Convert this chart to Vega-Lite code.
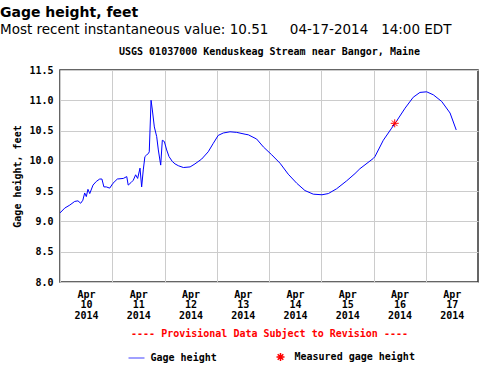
{
  "$schema": "https://vega.github.io/schema/vega-lite/v6.json",
  "width": 418,
  "height": 212,
  "autosize": "none",
  "padding": {"left": 60, "top": 70, "right": 22, "bottom": 102},
  "background": "white",
  "title": {
    "text": "Gage height, feet",
    "subtitle": "Most recent instantaneous value: 10.51\u00a0\u00a0\u00a0\u00a0\u00a004-17-2014\u00a0\u00a0\u00a014:00 EDT",
    "anchor": "start",
    "frame": "group",
    "dx": -60,
    "font": "DejaVu Sans",
    "fontSize": 14,
    "fontWeight": "bold",
    "color": "black",
    "subtitleFont": "DejaVu Sans",
    "subtitleFontSize": 13.5,
    "subtitleColor": "black",
    "subtitlePadding": 3,
    "offset": 10
  },
  "config": {
    "view": {"stroke": "#333333", "strokeWidth": 1.5},
    "axis": {
      "labelFont": "DejaVu Sans Mono",
      "labelFontWeight": "bold",
      "labelFontSize": 10,
      "labelColor": "black",
      "titleFont": "DejaVu Sans Mono",
      "titleFontWeight": "bold",
      "titleFontSize": 10,
      "titleColor": "black",
      "gridColor": "#cccccc",
      "gridWidth": 1,
      "domain": false,
      "ticks": false
    }
  },
  "layer": [
    {
      "data": {
        "values": [
          {"time": "2014-04-10T00:00", "gage": 9.14},
          {"time": "2014-04-10T02:10", "gage": 9.22},
          {"time": "2014-04-10T04:30", "gage": 9.27},
          {"time": "2014-04-10T06:45", "gage": 9.33},
          {"time": "2014-04-10T08:15", "gage": 9.34},
          {"time": "2014-04-10T09:30", "gage": 9.30},
          {"time": "2014-04-10T10:30", "gage": 9.35},
          {"time": "2014-04-10T11:20", "gage": 9.47},
          {"time": "2014-04-10T12:05", "gage": 9.41},
          {"time": "2014-04-10T12:50", "gage": 9.53},
          {"time": "2014-04-10T13:40", "gage": 9.46},
          {"time": "2014-04-10T15:10", "gage": 9.60},
          {"time": "2014-04-10T16:40", "gage": 9.66},
          {"time": "2014-04-10T18:15", "gage": 9.70},
          {"time": "2014-04-10T19:15", "gage": 9.70},
          {"time": "2014-04-10T20:10", "gage": 9.57},
          {"time": "2014-04-10T21:15", "gage": 9.57},
          {"time": "2014-04-10T22:50", "gage": 9.55},
          {"time": "2014-04-11T00:20", "gage": 9.63},
          {"time": "2014-04-11T02:20", "gage": 9.70},
          {"time": "2014-04-11T05:05", "gage": 9.71},
          {"time": "2014-04-11T06:40", "gage": 9.74},
          {"time": "2014-04-11T07:20", "gage": 9.60},
          {"time": "2014-04-11T08:35", "gage": 9.64},
          {"time": "2014-04-11T09:40", "gage": 9.68},
          {"time": "2014-04-11T10:45", "gage": 9.77},
          {"time": "2014-04-11T11:40", "gage": 9.71},
          {"time": "2014-04-11T12:45", "gage": 9.88},
          {"time": "2014-04-11T13:30", "gage": 9.57},
          {"time": "2014-04-11T14:15", "gage": 9.85},
          {"time": "2014-04-11T15:00", "gage": 10.07},
          {"time": "2014-04-11T15:50", "gage": 10.10},
          {"time": "2014-04-11T16:35", "gage": 10.12},
          {"time": "2014-04-11T17:00", "gage": 10.15},
          {"time": "2014-04-11T17:50", "gage": 11.00},
          {"time": "2014-04-11T18:25", "gage": 10.84},
          {"time": "2014-04-11T19:20", "gage": 10.56},
          {"time": "2014-04-11T20:25", "gage": 10.40},
          {"time": "2014-04-11T21:10", "gage": 10.18},
          {"time": "2014-04-11T22:15", "gage": 9.93},
          {"time": "2014-04-11T23:00", "gage": 10.34},
          {"time": "2014-04-11T23:55", "gage": 10.32},
          {"time": "2014-04-12T01:00", "gage": 10.18},
          {"time": "2014-04-12T02:05", "gage": 10.07},
          {"time": "2014-04-12T03:35", "gage": 9.99},
          {"time": "2014-04-12T04:50", "gage": 9.95},
          {"time": "2014-04-12T06:20", "gage": 9.92},
          {"time": "2014-04-12T08:40", "gage": 9.89},
          {"time": "2014-04-12T11:45", "gage": 9.90},
          {"time": "2014-04-12T14:00", "gage": 9.95},
          {"time": "2014-04-12T17:05", "gage": 10.03},
          {"time": "2014-04-12T20:05", "gage": 10.15},
          {"time": "2014-04-12T22:25", "gage": 10.29},
          {"time": "2014-04-13T00:40", "gage": 10.42},
          {"time": "2014-04-13T03:00", "gage": 10.46},
          {"time": "2014-04-13T06:05", "gage": 10.48},
          {"time": "2014-04-13T09:10", "gage": 10.47},
          {"time": "2014-04-13T13:00", "gage": 10.44},
          {"time": "2014-04-13T14:30", "gage": 10.43},
          {"time": "2014-04-13T18:20", "gage": 10.36},
          {"time": "2014-04-13T21:25", "gage": 10.23},
          {"time": "2014-04-14T01:15", "gage": 10.10},
          {"time": "2014-04-14T05:05", "gage": 9.96},
          {"time": "2014-04-14T08:50", "gage": 9.78},
          {"time": "2014-04-14T12:45", "gage": 9.63},
          {"time": "2014-04-14T16:30", "gage": 9.51},
          {"time": "2014-04-14T20:20", "gage": 9.45},
          {"time": "2014-04-15T00:20", "gage": 9.44},
          {"time": "2014-04-15T03:15", "gage": 9.46},
          {"time": "2014-04-15T07:05", "gage": 9.54},
          {"time": "2014-04-15T11:40", "gage": 9.67},
          {"time": "2014-04-15T15:30", "gage": 9.79},
          {"time": "2014-04-15T17:45", "gage": 9.87},
          {"time": "2014-04-15T23:55", "gage": 10.04},
          {"time": "2014-04-16T00:40", "gage": 10.07},
          {"time": "2014-04-16T04:30", "gage": 10.34},
          {"time": "2014-04-16T08:20", "gage": 10.54},
          {"time": "2014-04-16T10:40", "gage": 10.66},
          {"time": "2014-04-16T14:30", "gage": 10.87},
          {"time": "2014-04-16T18:15", "gage": 11.05},
          {"time": "2014-04-16T21:20", "gage": 11.13},
          {"time": "2014-04-17T00:25", "gage": 11.14},
          {"time": "2014-04-17T03:30", "gage": 11.09},
          {"time": "2014-04-17T07:20", "gage": 10.98},
          {"time": "2014-04-17T11:10", "gage": 10.79},
          {"time": "2014-04-17T14:00", "gage": 10.51}
        ]
      },
      "mark": {"type": "line", "color": "#0000ff", "strokeWidth": 1},
      "encoding": {
        "x": {
          "field": "time",
          "type": "temporal",
          "scale": {"domain": [{"year": 2014, "month": 4, "date": 10}, {"year": 2014, "month": 4, "date": 18}]},
          "axis": {
            "orient": "bottom",
            "values": [
              {"year": 2014, "month": 4, "date": 10},
              {"year": 2014, "month": 4, "date": 11},
              {"year": 2014, "month": 4, "date": 12},
              {"year": 2014, "month": 4, "date": 13},
              {"year": 2014, "month": 4, "date": 14},
              {"year": 2014, "month": 4, "date": 15},
              {"year": 2014, "month": 4, "date": 16},
              {"year": 2014, "month": 4, "date": 17}
            ],
            "labelExpr": "[timeFormat(datum.value, '%b'), timeFormat(datum.value, '%d'), timeFormat(datum.value, '%Y')]",
            "labelOffset": 26,
            "labelPadding": 7,
            "labelLineHeight": 10.5,
            "labelAlign": "center",
            "labelBaseline": "top",
            "labelFlush": false,
            "labelOverlap": false,
            "labelBound": false,
            "grid": true,
            "title": "---- Provisional Data Subject to Revision ----",
            "titleColor": "#ff0000",
            "titlePadding": 8
          }
        },
        "y": {
          "field": "gage",
          "type": "quantitative",
          "scale": {"domain": [8, 11.5], "nice": false, "zero": false},
          "axis": {
            "values": [8, 8.5, 9, 9.5, 10, 10.5, 11, 11.5],
            "format": ".1f",
            "labelPadding": 7,
            "labelOverlap": false,
            "labelFlush": false,
            "labelBound": false,
            "titlePadding": 6,
            "grid": true,
            "title": "Gage height, feet"
          }
        }
      }
    },
    {
      "data": {
        "values": [
          {"time": "2014-04-16T09:45", "gage": 10.62, "series": "Measured gage height"}
        ]
      },
      "mark": {"type": "point", "filled": false, "size": 256, "strokeWidth": 1, "opacity": 1},
      "encoding": {
        "x": {
          "field": "time",
          "type": "temporal",
          "axis": {
            "orient": "top",
            "labels": false,
            "ticks": false,
            "domain": false,
            "grid": false,
            "title": "USGS 01037000 Kenduskeag Stream near Bangor, Maine",
            "titlePadding": 14
          }
        },
        "y": {
          "field": "gage",
          "type": "quantitative",
          "axis": {
            "values": [8, 8.5, 9, 9.5, 10, 10.5, 11, 11.5],
            "format": ".1f",
            "labelPadding": 7,
            "labelOverlap": false,
            "labelFlush": false,
            "labelBound": false,
            "titlePadding": 6,
            "grid": true,
            "title": "Gage height, feet"
          }
        },
        "color": {
          "field": "series",
          "type": "nominal",
          "scale": {"domain": ["Gage height", "Measured gage height"], "range": ["#8080ff", "#ff0000"]},
          "legend": {
            "title": null,
            "orient": "none",
            "legendX": 67.5,
            "legendY": 278,
            "direction": "horizontal",
            "columnPadding": 54,
            "labelOffset": 5,
            "padding": 0,
            "symbolSize": 256,
            "symbolStrokeWidth": 1.5,
            "labelFont": "DejaVu Sans Mono",
            "labelFontWeight": "bold",
            "labelFontSize": 10,
            "labelColor": "black"
          }
        },
        "shape": {
          "field": "series",
          "type": "nominal",
          "scale": {
            "domain": ["Gage height", "Measured gage height"],
            "range": ["M-1,0L1,0", "M-0.5,0L0.5,0M0,-0.5L0,0.5M-0.35,-0.35L0.35,0.35M-0.35,0.35L0.35,-0.35"]
          }
        }
      }
    }
  ],
  "resolve": {"axis": {"x": "independent"}}
}
